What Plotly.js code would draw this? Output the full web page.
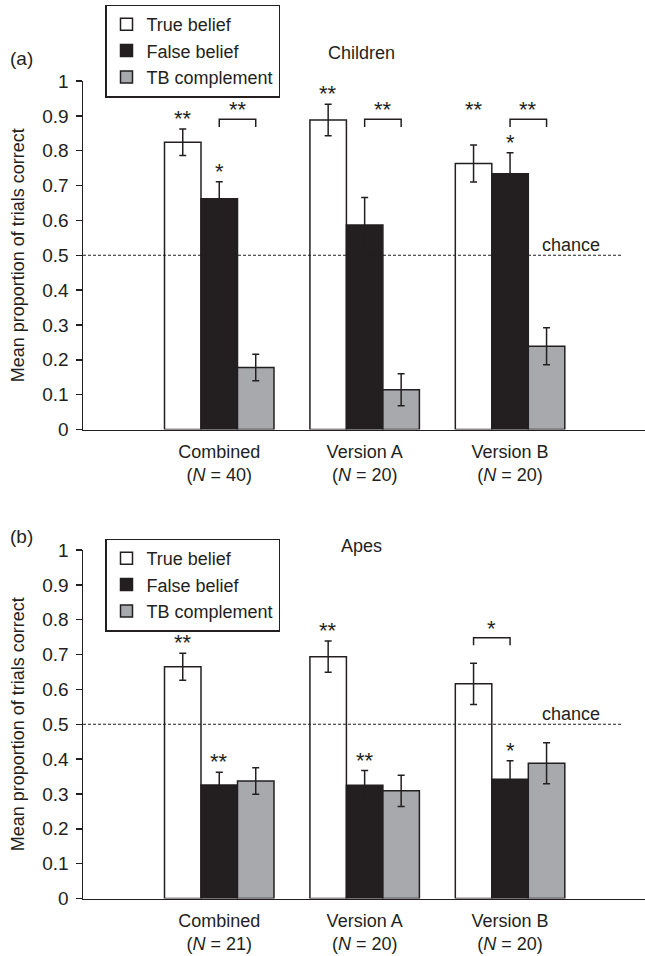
<!DOCTYPE html>
<html>
<head>
<meta charset="utf-8">
<script src="https://cdn.plot.ly/plotly-3.0.1.min.js"></script>
<style>html,body{margin:0;padding:0;background:#fff;}#chart{width:645px;height:956px;}</style>
</head>
<body>
<div id="chart"></div>
<script>
// ---- data ----
const categories = ['Combined', 'Version A', 'Version B'];
const nChildren = [40, 20, 20];
const nApes = [21, 20, 20];

const childTB = [0.824, 0.888, 0.763];
const childTBerr = [0.038, 0.045, 0.053];
const childFB = [0.662, 0.587, 0.734];
const childFBerr = [0.049, 0.079, 0.060];
const childTBC = [0.178, 0.114, 0.239];
const childTBCerr = [0.038, 0.046, 0.053];

const apeTB = [0.665, 0.694, 0.616];
const apeTBerr = [0.039, 0.045, 0.059];
const apeFB = [0.326, 0.325, 0.342];
const apeFBerr = [0.036, 0.042, 0.053];
const apeTBC = [0.337, 0.309, 0.388];
const apeTBCerr = [0.038, 0.045, 0.059];

// significance markers
const childSigTB = ['**', '**', '**'];
const childSigFB = ['*', '', '*'];
const childSigBracket = ['**', '**', '**'];   // FB vs TB complement
const childRaiseTB = [false, false, true];
const apeSigTB = ['**', '**', ''];
const apeSigFB = ['**', '**', '*'];
const apeSigBracket = ['', '', '*'];          // TB vs FB

const seriesNames = ['True belief', 'False belief', 'TB complement'];
const chance = 0.5;

// ---- style ----
const ink = '#231f20';
const fills = ['#ffffff', '#231f20', '#a7a9ac'];
const FONT = 'Liberation Sans, Arial, Helvetica, sans-serif';
const xRange = [-0.937, 2.928];
const bargap = 0.247;
const bw = (1 - bargap) / 3;
const xs = categories.map((c, i) => i);

function tickText(ns) {
  return categories.map((c, i) => c + '<br>(<i>N</i> = ' + ns[i] + ')');
}

function barTrace(name, vals, errs, k, xa, ya, leg) {
  return {
    type: 'bar', name: name, x: xs, y: vals,
    xaxis: xa, yaxis: ya, legend: leg,
    marker: {color: fills[k], line: {color: ink, width: 1.5}},
    error_y: {type: 'data', array: errs, visible: true, color: ink, thickness: 1.5, width: 3.5},
    hoverinfo: 'skip'
  };
}

const data = [
  barTrace(seriesNames[0], childTB, childTBerr, 0, 'x', 'y', 'legend'),
  barTrace(seriesNames[1], childFB, childFBerr, 1, 'x', 'y', 'legend'),
  barTrace(seriesNames[2], childTBC, childTBCerr, 2, 'x', 'y', 'legend'),
  barTrace(seriesNames[0], apeTB, apeTBerr, 0, 'x2', 'y2', 'legend2'),
  barTrace(seriesNames[1], apeFB, apeFBerr, 1, 'x2', 'y2', 'legend2'),
  barTrace(seriesNames[2], apeTBC, apeTBCerr, 2, 'x2', 'y2', 'legend2')
];

const annotations = [];
const shapes = [];
const starFont = {family: FONT, size: 22, color: ink};

function star(txt, x, y, xa, ya, shift) {
  if (!txt) return;
  annotations.push({text: txt, x: x, y: y, xref: xa, yref: ya, showarrow: false,
    xanchor: 'center', yanchor: 'bottom', yshift: shift, font: starFont});
}
function bracket(x0, x1, yTop, yLeg, xa, ya) {
  shapes.push({type: 'path', xref: xa, yref: ya,
    path: 'M' + x0 + ',' + yLeg + ' L' + x0 + ',' + yTop + ' L' + x1 + ',' + yTop + ' L' + x1 + ',' + yLeg,
    line: {color: ink, width: 1.5}});
}

// children panel
const cBrTop = 0.890, cBrLeg = 0.868;
xs.forEach(i => {
  const tbY = childRaiseTB[i] ? cBrTop : childTB[i] + childTBerr[i];
  star(childSigTB[i], i - bw, tbY, 'x', 'y', childRaiseTB[i] ? -5 : -4);
  star(childSigFB[i], i, childFB[i] + childFBerr[i], 'x', 'y', -4);
  if (childSigBracket[i]) {
    bracket(i, i + bw, cBrTop, cBrLeg, 'x', 'y');
    star(childSigBracket[i], i + bw / 2, cBrTop, 'x', 'y', -5);
  }
});
// apes panel
const aBrTop = 0.748, aBrLeg = 0.727;
xs.forEach(i => {
  star(apeSigTB[i], i - bw, apeTB[i] + apeTBerr[i], 'x2', 'y2', -4);
  star(apeSigFB[i], i, apeFB[i] + apeFBerr[i], 'x2', 'y2', -4);
  if (apeSigBracket[i]) {
    bracket(i - bw, i, aBrTop, aBrLeg, 'x2', 'y2');
    star(apeSigBracket[i], i - bw / 2, aBrTop, 'x2', 'y2', -5);
  }
});

// chance lines
[['x', 'y'], ['x2', 'y2']].forEach(([xa, ya]) => {
  shapes.push({type: 'line', xref: xa, yref: ya, x0: xRange[0], x1: 2.768, y0: chance, y1: chance,
    line: {color: ink, width: 1, dash: '3px,2px'}});
  annotations.push({text: 'chance', x: 2.416, y: chance, xref: xa, yref: ya, showarrow: false,
    xanchor: 'center', yanchor: 'middle', yshift: 10, font: {family: FONT, size: 18, color: ink}});
});

// panel labels and titles
const txtFont = {family: FONT, size: 19, color: ink};
annotations.push({text: '(a)', xref: 'paper', yref: 'paper', x: -0.133, y: 1 - 58.3 / 956,
  xanchor: 'left', yanchor: 'middle', showarrow: false, font: txtFont});
annotations.push({text: '(b)', xref: 'paper', yref: 'paper', x: -0.133, y: 1 - 536.7 / 956,
  xanchor: 'left', yanchor: 'middle', showarrow: false, font: txtFont});
annotations.push({text: 'Children', xref: 'paper', yref: 'paper', x: (361 - 83) / 562, y: 1 - 53.3 / 956,
  xanchor: 'center', yanchor: 'middle', showarrow: false, font: {family: FONT, size: 18, color: ink}});
annotations.push({text: 'Apes', xref: 'paper', yref: 'paper', x: (361 - 83) / 562, y: 1 - 545.7 / 956,
  xanchor: 'center', yanchor: 'middle', showarrow: false, font: {family: FONT, size: 18, color: ink}});

function xAxis(anchor, ns) {
  return {anchor: anchor, domain: [0, 1], range: xRange, tickvals: xs, ticktext: tickText(ns),
    showline: true, linecolor: ink, linewidth: 1.5, ticks: '', showgrid: false, zeroline: false,
    tickfont: {family: FONT, size: 18, color: ink}, ticklabelstandoff: 5, automargin: false, fixedrange: true};
}
function yAxis(anchor, dom) {
  return {anchor: anchor, domain: dom, range: [0, 1], tick0: 0, dtick: 0.1,
    ticks: 'outside', ticklen: 6, tickwidth: 1.5, tickcolor: ink,
    showline: true, linecolor: ink, linewidth: 1.5, showgrid: false, zeroline: false,
    tickfont: {family: FONT, size: 19, color: ink}, ticklabelstandoff: 3,
    title: {text: 'Mean proportion of trials correct', font: {family: FONT, size: 18, color: ink}, standoff: 13},
    automargin: false, fixedrange: true};
}

const legendBase = {xanchor: 'left', yanchor: 'top', bordercolor: ink, borderwidth: 1.5, bgcolor: '#ffffff',
  font: {family: FONT, size: 18, color: ink}, traceorder: 'normal', tracegroupgap: 0, itemwidth: 30};

const layout = {
  width: 645, height: 956,
  margin: {l: 83, r: 0, t: 0, b: 0, pad: 0},
  paper_bgcolor: '#ffffff', plot_bgcolor: '#ffffff',
  font: {family: FONT, size: 18, color: ink},
  barmode: 'group', bargap: bargap, bargroupgap: 0,
  showlegend: true,
  xaxis: xAxis('y', nChildren),
  yaxis: yAxis('x', [1 - 429.5 / 956, 1 - 81 / 956]),
  xaxis2: xAxis('y2', nApes),
  yaxis2: yAxis('x2', [1 - 898.5 / 956, 1 - 550 / 956]),
  legend: Object.assign({x: (105 - 83) / 562, y: 1 - 4.5 / 956}, legendBase),
  legend2: Object.assign({x: (105 - 83) / 562, y: 1 - 538.5 / 956}, legendBase),
  annotations: annotations,
  shapes: shapes
};

Plotly.newPlot('chart', data, layout, {displayModeBar: false, staticPlot: true});
</script>
</body>
</html>
